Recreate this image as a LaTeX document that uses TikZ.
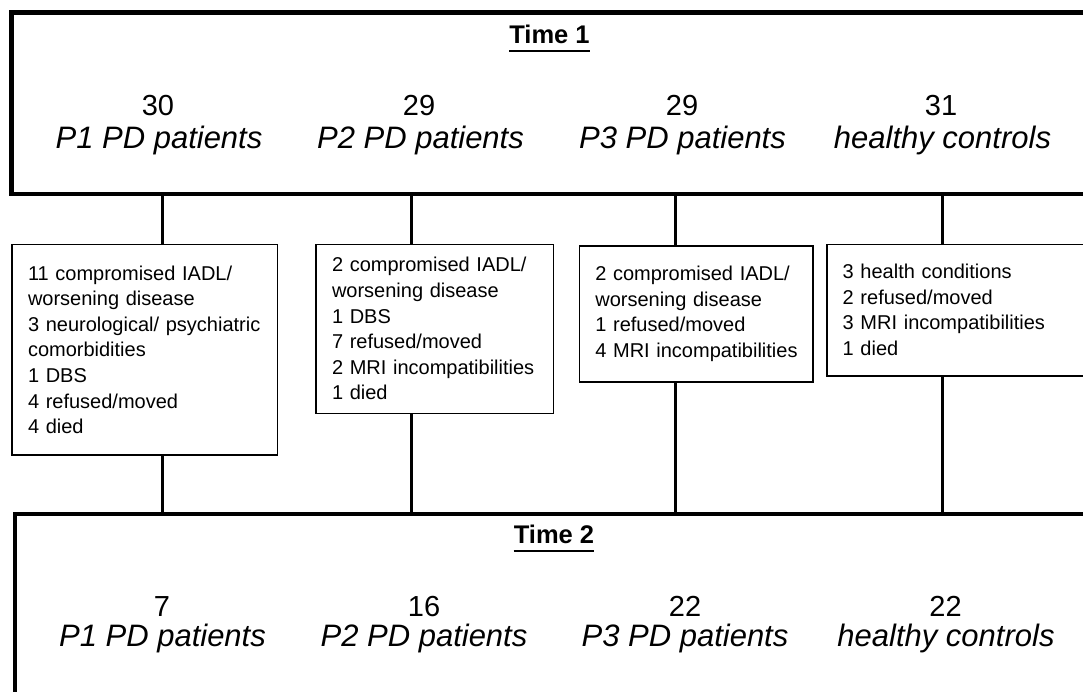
\documentclass[tikz,border=0pt]{standalone}
\usepackage{fontspec}
\setmainfont{Liberation Sans}
\newcommand{\nohyph}{\hyphenpenalty 10000 \exhyphenpenalty 10000 }
\begin{document}
\begin{tikzpicture}[x=1pt,y=-1pt,
  bigbox/.style={draw, line width=4.5pt, outer sep=0pt, inner sep=0pt, anchor=north west},
  dropbox/.style={draw, line width=1.6pt, outer sep=0pt, inner xsep=16pt, inner ysep=0pt,
    anchor=north west, align=left, font={\fontsize{20}{25.6}\selectfont\nohyph}},
  conn/.style={line width=3pt},
  numtxt/.style={anchor=base, inner sep=0pt, font=\fontsize{29}{33}\selectfont},
  grp/.style={anchor=base, inner sep=0pt, font=\fontsize{31}{33}\selectfont\itshape},
  ttl/.style={anchor=base, inner sep=0pt, font=\fontsize{25.5}{28}\selectfont\bfseries},
  uline/.style={line width=2pt}]
\useasboundingbox (0,0) rectangle (1083,691);
\clip (0,0) rectangle (1083,691);

% big boxes
\node[bigbox, minimum width=1100pt, minimum height=181.5pt] (top) at (11.5,12.5) {};
\node[bigbox, minimum width=1100pt, minimum height=250pt] (bot) at (15,514) {};

% drop-out boxes
\node[dropbox, minimum width=265.5pt, minimum height=210.7pt, text width=233.5pt] (b1) at (12,244.3)
  {11 compromised IADL/\\worsening disease\\3 neurological/ psychiatric\\comorbidities\\1 DBS\\4 refused/moved\\4 died};
\node[dropbox, minimum width=237.3pt, minimum height=169pt, text width=205.3pt] (b2) at (316,244.3)
  {2 compromised IADL/\\worsening disease\\1 DBS\\7 refused/moved\\2 MRI incompatibilities\\1 died};
\node[dropbox, minimum width=233.4pt, minimum height=135.7pt, text width=201.4pt] (b3) at (579.3,246)
  {2 compromised IADL/\\worsening disease\\1 refused/moved\\4~MRI~incompatibilities};
\node[dropbox, minimum width=300pt, minimum height=131.4pt, text width=268pt] (b4) at (826.7,244.3)
  {3 health conditions\\2 refused/moved\\3 MRI incompatibilities\\1 died};

% connector x positions
\coordinate (x1) at (162,0);
\coordinate (x2) at (411.5,0);
\coordinate (x3) at (675,0);
\coordinate (x4) at (942.5,0);

\draw[conn] (top.south -| x1) -- (b1.north -| x1);
\draw[conn] (b1.south -| x1) -- (bot.north -| x1);
\draw[conn] (top.south -| x2) -- (b2.north -| x2);
\draw[conn] (b2.south -| x2) -- (bot.north -| x2);
\draw[conn] (top.south -| x3) -- (b3.north -| x3);
\draw[conn] (b3.south -| x3) -- (bot.north -| x3);
\draw[conn] (top.south -| x4) -- (b4.north -| x4);
\draw[conn] (b4.south -| x4) -- (bot.north -| x4);

% titles
\node[ttl] (t1) at (549.5,43.3) {Time 1};
\draw[uline] ([yshift=-7.5pt]t1.base west) -- ([yshift=-7.5pt]t1.base east);
\node[ttl] (t2) at (554,543.3) {Time 2};
\draw[uline] ([yshift=-8pt]t2.base west) -- ([yshift=-8pt]t2.base east);

% time 1 groups
\node[numtxt] (n11) at (158,115) {30};
\node[grp] (g11) at (159,148.3) {P1 PD patients};
\node[numtxt] (n12) at (419,115) {29};
\node[grp] (g12) at (420.5,148.3) {P2 PD patients};
\node[numtxt] (n13) at (682,115) {29};
\node[grp] (g13) at (682.5,148.3) {P3 PD patients};
\node[numtxt] (n14) at (941,115) {31};
\node[grp] (g14) at (942.5,148.3) {healthy controls};

% time 2 groups
\node[numtxt] (n21) at (162,616.7) {7};
\node[grp] (g21) at (162.5,646.7) {P1 PD patients};
\node[numtxt] (n22) at (424,616.7) {16};
\node[grp] (g22) at (424,646.7) {P2 PD patients};
\node[numtxt] (n23) at (685,616.7) {22};
\node[grp] (g23) at (685,646.7) {P3 PD patients};
\node[numtxt] (n24) at (945.5,616.7) {22};
\node[grp] (g24) at (946,646.7) {healthy controls};
\end{tikzpicture}
\end{document}
